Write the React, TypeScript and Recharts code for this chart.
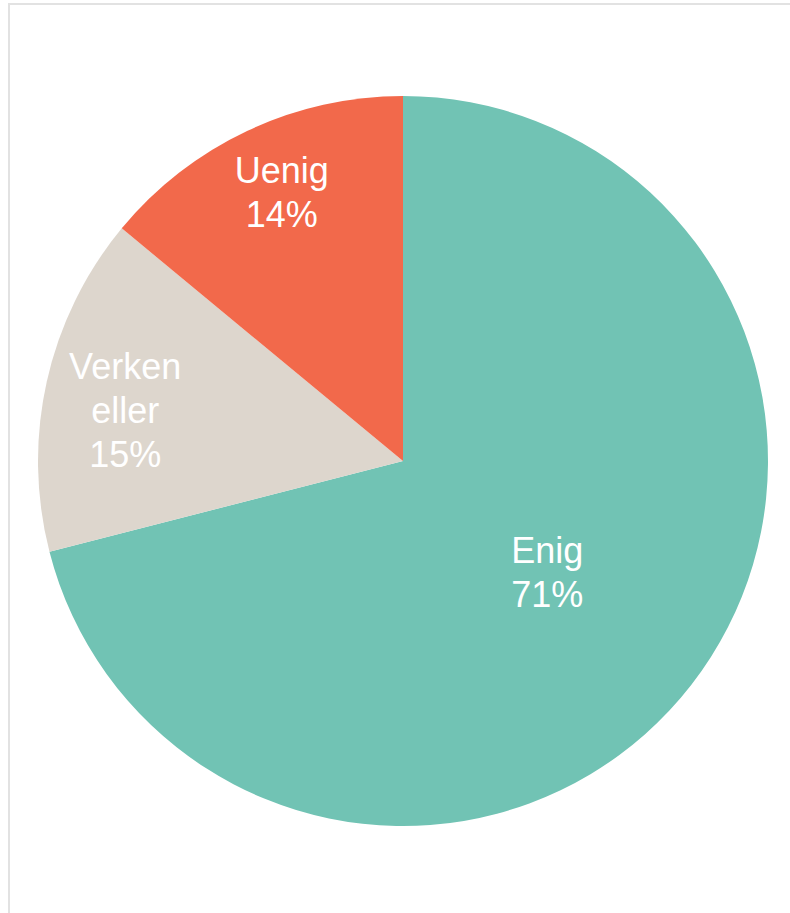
import React from 'react';
import { PieChart, Pie, Cell } from 'recharts';

const labels = ['Enig', 'Verken eller', 'Uenig'];
const values = [71, 15, 14];
const colors = ['#71c3b4', '#ddd6cd', '#f2694b'];

const data = labels.map((name, i) => ({ name, value: values[i] }));

const RADIAN = Math.PI / 180;

// etiketter inne i sektorene, små sektorer får etiketten lenger ut
const renderLabel = (props: any) => {
  const { cx, cy, midAngle, outerRadius, name, value, percent } = props;
  const small = percent < 0.5;
  const r = outerRadius * (small ? 0.78 : 0.5);
  const lines = [...String(name).split(' '), `${value}%`];
  const x = cx + r * Math.cos(-midAngle * RADIAN);
  const y = cy + r * Math.sin(-midAngle * RADIAN) + (small ? (lines.length - 2) * 23 - 11 : 0);
  const lh = 44;
  return (
    <text
      x={x}
      y={y}
      fill="#ffffff"
      textAnchor="middle"
      fontSize={36}
      fontFamily="'Liberation Sans', Arial, sans-serif"
    >
      {lines.map((line, i) => (
        <tspan key={i} x={x} y={y + (i - (lines.length - 1) / 2) * lh} dominantBaseline="central">
          {line}
        </tspan>
      ))}
    </text>
  );
};

export default function App() {
  return (
    <div style={{ position: 'absolute', left: 0, top: 0, width: 790, height: 913, background: '#fff' }}>
      <div
        style={{
          position: 'absolute',
          left: 8,
          top: 3,
          width: 782,
          height: 910,
          borderTop: '2px solid #e2e2e2',
          borderLeft: '2px solid #e2e2e2',
          boxSizing: 'border-box',
        }}
      />
      <div style={{ position: 'absolute', left: 0, top: 0 }}>
        <PieChart width={790} height={913} margin={{ top: 0, right: 0, bottom: 0, left: 0 }}>
          <Pie
            data={data}
            dataKey="value"
            nameKey="name"
            cx={403}
            cy={461}
            outerRadius={365}
            startAngle={90}
            endAngle={-270}
            stroke="none"
            label={renderLabel}
            labelLine={false}
            isAnimationActive={false}
          >
            {data.map((d, i) => (
              <Cell key={d.name} fill={colors[i]} />
            ))}
          </Pie>
        </PieChart>
      </div>
    </div>
  );
}
